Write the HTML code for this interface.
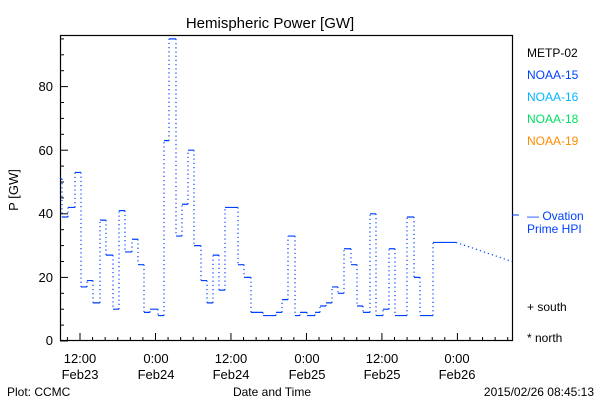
<!DOCTYPE html>
<html><head><style>
body{margin:0;background:#fff;}
svg text{font-family:"Liberation Sans",sans-serif;}
</style></head><body>
<svg id="s" width="600" height="400" xmlns="http://www.w3.org/2000/svg" font-size="13">
<rect x="0" y="0" width="600" height="400" fill="#fff"/>
<text x="270" y="28" font-size="15" text-anchor="middle">Hemispheric Power [GW]</text>
<rect x="60.5" y="35.5" width="452" height="305" fill="none" stroke="#000" stroke-width="1.2"/>
<g id="ax" stroke="#000" stroke-width="1"></g>
<g font-size="13" text-anchor="end">
<text x="53" y="345">0</text><text x="53" y="282">20</text><text x="53" y="218">40</text><text x="53" y="155">60</text><text x="53" y="91">80</text>
</g>
<text x="18" y="190" font-size="13" text-anchor="middle" transform="rotate(-90 18 190)">P [GW]</text>
<g font-size="13" text-anchor="middle">
<text x="80" y="363">12:00</text><text x="80" y="379">Feb23</text>
<text x="156" y="363">0:00</text><text x="156" y="379">Feb24</text>
<text x="231" y="363">12:00</text><text x="231" y="379">Feb24</text>
<text x="307" y="363">0:00</text><text x="307" y="379">Feb25</text>
<text x="382" y="363">12:00</text><text x="382" y="379">Feb25</text>
<text x="457" y="363">0:00</text><text x="457" y="379">Feb26</text>
</g>
<text x="7" y="396" font-size="12">Plot: CCMC</text>
<text x="272" y="396" font-size="12" text-anchor="middle">Date and Time</text>
<text x="594" y="396" font-size="12" text-anchor="end">2015/02/26 08:45:13</text>
<g font-size="12">
<text x="527" y="57" fill="#000">METP-02</text>
<text x="527" y="79" fill="#0040ff">NOAA-15</text>
<text x="527" y="101" fill="#00b4ff">NOAA-16</text>
<text x="527" y="123" fill="#00e060">NOAA-18</text>
<text x="527" y="145" fill="#ff8c00">NOAA-19</text>
<text x="527" y="220" fill="#0040ff">— Ovation</text>
<text x="527" y="233" fill="#0040ff">Prime HPI</text>
<text x="527" y="311">+ south</text>
<text x="527" y="342">* north</text>
</g>
<line x1="512" y1="215" x2="519" y2="215" stroke="#0040ff"/>
<g id="d" fill="none" stroke="#0040ff" stroke-width="1.2"></g>
</svg>
<script>
var ns="http://www.w3.org/2000/svg";
function Y(v){return 341-v*3.18;}
var ax=document.getElementById('ax'),h='';
for(var v=0;v<=95;v+=5){var y=Y(v),l=(v%20==0)?8:4;h+='<line x1="60" y1="'+y+'" x2="'+(60+l)+'" y2="'+y+'"/>';}
for(var i=-1;i<40;i++){var x=80+i*12.58;if(x<61||x>512)continue;var l=(i%6==0)?8:4;h+='<line x1="'+x+'" y1="341" x2="'+x+'" y2="'+(341-l)+'"/>';}
ax.innerHTML=h;
var seg=[[60,62,51],[62,68,39],[68,75,42],[75,81,53],[81,87,17],[87,93,19],[93,100,12],[100,106,38],[106,113,27],[113,119,10],[119,125,41],[125,132,28],[132,138,32],[138,144,24],[144,150,9],[150,158,10],[158,164,8],[164,169,63],[169,176,95],[176,182,33],[182,188,43],[188,194,60],[194,201,30],[201,207,19],[207,213,12],[213,219,27],[219,225,16],[225,238,42],[238,244,24],[244,251,20],[251,263,9],[263,276,8],[276,282,9],[282,288,13],[288,295,33],[295,300,8],[300,307,9],[307,315,8],[315,320,9],[320,326,11],[326,332,12],[332,338,17],[338,344,15],[344,351,29],[351,357,24],[357,363,11],[363,370,9],[370,376,40],[376,383,8],[383,389,10],[389,395,29],[395,407,8],[407,414,39],[414,420,20],[420,433,8],[433,456,31]];
var s='',d='';
for(var k=0;k<seg.length;k++){var g=seg[k];s+='M'+g[0]+' '+Y(g[2])+'H'+g[1];
 if(k+1<seg.length)d+='M'+g[1]+' '+Y(g[2])+'V'+Y(seg[k+1][2]);}
d+='M456 '+Y(31)+'L512 '+Y(25);
document.getElementById('d').innerHTML='<path d="'+s+'"/><path d="'+d+'" stroke-dasharray="1.2 3"/>';
</script>
</body></html>
